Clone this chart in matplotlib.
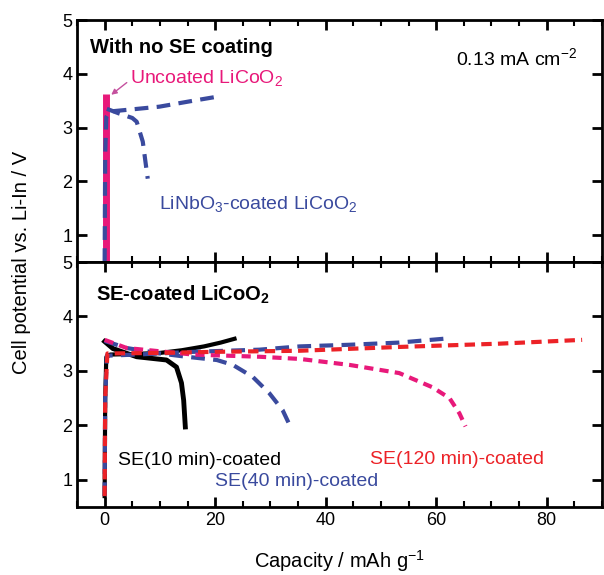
import matplotlib.pyplot as plt
from matplotlib.ticker import MultipleLocator

plt.rcParams['font.family'] = ['Liberation Sans', 'DejaVu Sans']
plt.rcParams['mathtext.fontset'] = 'custom'
plt.rcParams['mathtext.rm'] = 'Liberation Sans'
plt.rcParams['mathtext.bf'] = 'Liberation Sans:bold'

# top panel: no SE coating
unc_x = [0.3, 0.3]
unc_y = [0.5, 3.62]
nb_chg_x = [0.0, 0.1, 0.3, 0.9, 5.0, 9.9, 16.0, 21.2]
nb_chg_y = [0.5, 2.5, 3.2, 3.3, 3.34, 3.39, 3.5, 3.59]
nb_dis_x = [0.4, 2.7, 5.0, 5.8, 6.9, 7.6, 7.8]
nb_dis_y = [3.35, 3.26, 3.18, 3.11, 2.74, 2.2, 2.05]

# bottom panel: SE-coated
se10_chg_x = [0.0, 0.1, 0.3, 1.0, 5.0, 10.0, 14.0, 18.0, 21.0, 23.5]
se10_chg_y = [0.7, 2.5, 3.25, 3.3, 3.31, 3.33, 3.38, 3.45, 3.52, 3.59]
se10_dis_x = [0.0, 1.5, 5.8, 11.2, 13.0, 13.9, 14.3, 14.6]
se10_dis_y = [3.54, 3.41, 3.26, 3.2, 3.07, 2.78, 2.46, 1.97]
se40_chg_x = [0.0, 0.1, 0.4, 5.8, 16.0, 28.0, 35.3, 44.3, 53.3, 61.3]
se40_chg_y = [0.7, 2.5, 3.28, 3.3, 3.35, 3.39, 3.45, 3.48, 3.52, 3.59]
se40_dis_x = [0.0, 4.0, 10.0, 14.8, 20.3, 23.2, 26.8, 29.8, 32.2, 33.5]
se40_dis_y = [3.55, 3.42, 3.32, 3.26, 3.2, 3.11, 2.89, 2.59, 2.28, 2.0]
se120_chg_x = [0.0, 0.1, 0.5, 10.0, 20.0, 35.3, 53.3, 71.4, 86.4]
se120_chg_y = [0.7, 2.5, 3.32, 3.33, 3.35, 3.37, 3.44, 3.5, 3.57]
se120_dis_x = [0.0, 4.0, 16.0, 28.0, 35.3, 44.3, 53.3, 59.3, 62.4, 64.2, 65.3]
se120_dis_y = [3.57, 3.42, 3.3, 3.26, 3.22, 3.11, 2.96, 2.7, 2.5, 2.22, 1.98]

blue = '#3a4a9e'
pink = '#e8197a'
red = '#ec2227'

fig = plt.figure(figsize=(6.04, 5.75), dpi=100)
ax1 = fig.add_axes([0.1275, 0.5443, 0.8692, 0.4207])
ax2 = fig.add_axes([0.1275, 0.1183, 0.8692, 0.4260])

for ax in (ax1, ax2):
    ax.set_xlim(-5, 90)
    ax.set_ylim(0.5, 5)
    ax.xaxis.set_major_locator(MultipleLocator(20))
    ax.xaxis.set_minor_locator(MultipleLocator(5))
    ax.yaxis.set_major_locator(MultipleLocator(1))
    ax.tick_params(which='both', direction='in', top=True, right=True, labelsize=13)
    ax.tick_params(which='major', length=7, width=2)
    ax.tick_params(which='minor', length=4, width=1.5)
    for s in ax.spines.values():
        s.set_linewidth(2)
ax1.tick_params(labelbottom=False)

# top
ax1.plot(unc_x, unc_y, c=pink, lw=5, solid_capstyle='butt')
ax1.plot(nb_chg_x, nb_chg_y, c=blue, lw=3, ls=(0, (3.3, 2)))
ax1.plot(nb_dis_x, nb_dis_y, c=blue, lw=3, ls=(0, (3.3, 2)))
ax1.text(-2.7, 4.5, 'With no SE coating', fontsize=14.5, fontweight='bold', va='center')
ax1.text(85.5, 4.28, '0.13 mA cm$^{-2}$', fontsize=14, ha='right', va='center')
ax1.text(4.6, 3.9, 'Uncoated LiCoO$_2$', fontsize=14, color=pink, va='center')
ax1.annotate('', xy=(0.8, 3.58), xytext=(4.4, 3.87),
             arrowprops=dict(arrowstyle='-|>', color='#c4509e', lw=1, mutation_scale=8))
ax1.text(9.9, 1.56, 'LiNbO$_3$-coated LiCoO$_2$', fontsize=14, color=blue, va='center')

# bottom
ax2.plot(se10_chg_x, se10_chg_y, c='black', lw=3)
ax2.plot(se10_dis_x, se10_dis_y, c='black', lw=3.5)
ax2.plot(se40_chg_x, se40_chg_y, c=blue, lw=3, ls=(0, (3.3, 2)))
ax2.plot(se40_dis_x, se40_dis_y, c=blue, lw=3, ls=(0, (3.3, 2)))
ax2.plot(se120_dis_x, se120_dis_y, c=pink, lw=3, ls=(0, (2.2, 1.5)))
ax2.plot(se120_chg_x, se120_chg_y, c=red, lw=3, ls=(0, (2.5, 1.5)))
ax2.text(-1.6, 4.39, 'SE-coated LiCoO$_\\mathbf{2}$', fontsize=14.5, fontweight='bold', va='center')
ax2.text(2.4, 1.35, 'SE(10 min)-coated', fontsize=14, color='black', va='center')
ax2.text(20.0, 0.96, 'SE(40 min)-coated', fontsize=14, color=blue, va='center')
ax2.text(48.0, 1.37, 'SE(120 min)-coated', fontsize=14, color=red, va='center')

ax2.set_xlabel('Capacity / mAh g$^{-1}$', fontsize=14.5, labelpad=14)
fig.text(0.035, 0.543, 'Cell potential vs. Li-In / V', rotation=90, fontsize=14.5,
         ha='center', va='center')

plt.savefig('out.png')
